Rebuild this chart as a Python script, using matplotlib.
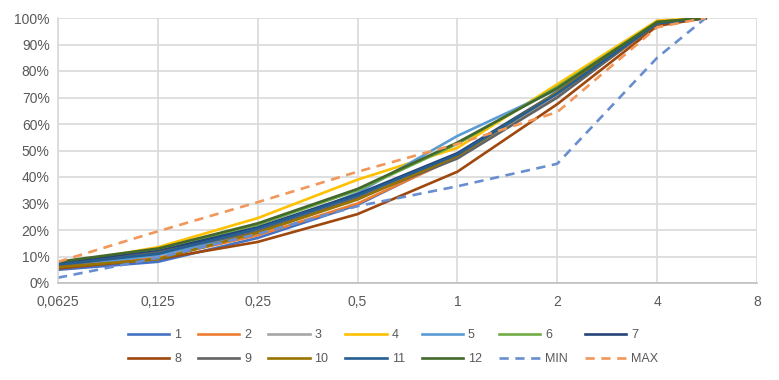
import matplotlib
matplotlib.use("Agg")
import matplotlib.pyplot as plt
from matplotlib.ticker import FixedLocator, FixedFormatter, PercentFormatter

plt.rcParams['font.family'] = ['Liberation Sans Narrow', 'Liberation Sans', 'DejaVu Sans']

sizes = [0.0625, 0.125, 0.25, 0.5, 1, 2, 4, 5.6]
x_ticks = [0.0625, 0.125, 0.25, 0.5, 1, 2, 4, 8]
x_tick_labels = ["0,0625", "0,125", "0,25", "0,5", "1", "2", "4", "8"]

s1 = [5.0, 8.0, 17.0, 29.5, 48.0, 70.5, 98.0, 100]
s2 = [6.0, 9.5, 18.0, 30.0, 47.5, 71.0, 97.5, 100]
s3 = [7.0, 12.0, 20.0, 32.5, 48.0, 71.0, 98.0, 100]
s4 = [7.0, 13.5, 24.5, 39.0, 51.0, 75.0, 99.0, 100]
s5 = [6.0, 10.5, 19.0, 34.0, 55.5, 73.0, 98.0, 100]
s6 = [7.5, 12.5, 22.0, 35.0, 52.5, 74.0, 98.5, 100]
s7 = [7.5, 12.0, 21.0, 33.5, 49.0, 72.0, 98.0, 100]
s8 = [5.5, 9.0, 15.5, 26.0, 42.0, 67.5, 97.0, 100]
s9 = [6.5, 11.5, 19.5, 32.0, 47.0, 70.0, 98.0, 100]
s10 = [6.0, 9.0, 19.0, 31.5, 48.0, 72.0, 98.5, 100]
s11 = [7.0, 11.0, 20.5, 33.0, 48.5, 71.5, 98.0, 100]
s12 = [8.0, 13.0, 22.5, 35.5, 53.0, 73.5, 98.5, 100]
s_min = [2.0, 9.5, 18.5, 29.0, 36.5, 45.0, 85.0, 100]
s_max = [8.0, 19.5, 30.5, 42.0, 52.5, 64.5, 96.5, 100]

names = ["1", "2", "3", "4", "5", "6", "7", "8", "9", "10", "11", "12", "MIN", "MAX"]
series = [s1, s2, s3, s4, s5, s6, s7, s8, s9, s10, s11, s12, s_min, s_max]
colors = ["#4472C4", "#ED7D31", "#A5A5A5", "#FFC000", "#5B9BD5", "#70AD47",
          "#264478", "#9E480E", "#636363", "#997300", "#255E91", "#43682B",
          "#698ED0", "#F1975A"]

fig = plt.figure(figsize=(7.79, 3.80), dpi=100)
ax = fig.add_axes([58/779, 1-283/380, (757-58)/779, (283-18)/380])

handles = []
for name, vals, c in zip(names, series, colors):
    ls = (0, (3.5, 2.5)) if name in ("MIN", "MAX") else '-'
    h, = ax.plot(sizes, vals, color=c, lw=1.9, ls=ls, label=name,
                 solid_joinstyle='round', dash_capstyle='butt')
    handles.append(h)

ax.set_xscale('log', base=2)
ax.set_xlim(0.0625, 8)
ax.set_ylim(0, 100)
ax.xaxis.set_major_locator(FixedLocator(x_ticks))
ax.xaxis.set_major_formatter(FixedFormatter(x_tick_labels))
ax.xaxis.set_minor_locator(FixedLocator([]))
ax.set_yticks(range(0, 101, 10))
ax.yaxis.set_major_formatter(PercentFormatter(decimals=0))

ax.grid(True, color="#D9D9D9", lw=1.2)
ax.set_axisbelow(True)
for s in ax.spines.values():
    s.set_visible(False)
ax.spines['left'].set_visible(True)
ax.spines['bottom'].set_visible(True)
ax.spines['left'].set_color("#D9D9D9")
ax.spines['bottom'].set_color("#BFBFBF")
ax.spines['left'].set_linewidth(1.2)
ax.spines['bottom'].set_linewidth(1.2)
ax.tick_params(axis='both', length=0, labelsize=10, colors="#595959", pad=6)
ax.tick_params(axis='x', pad=9)

# row-major ordering for a 2-row, 7-column legend
ncol = 7
order = []
for j in range(ncol):
    order.append(j)
    order.append(j + ncol)
leg_handles = [handles[i] for i in order]
leg_labels = [names[i] for i in order]

leg = fig.legend(leg_handles, leg_labels, loc='center',
                 bbox_to_anchor=(393/779, 1-347/380), ncol=ncol,
                 frameon=False, fontsize=9, handlelength=3.3, handletextpad=0.4,
                 columnspacing=1.35, labelspacing=0.95)
for t in leg.get_texts():
    t.set_color("#595959")

fig.savefig("out.png", dpi=100)
